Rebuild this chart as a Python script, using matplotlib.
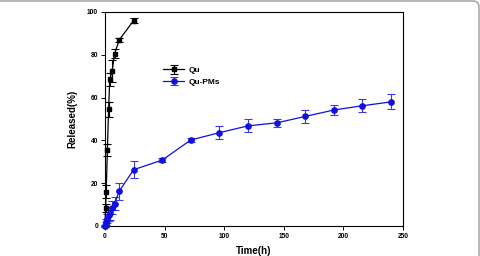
import matplotlib
matplotlib.use("Agg")
import matplotlib.pyplot as plt
from matplotlib.patches import FancyBboxPatch
from matplotlib.transforms import IdentityTransform

plt.rcParams['font.family'] = ['Liberation Sans', 'DejaVu Sans']

# Data
qu_time = [0, 0.5, 1, 2, 3, 4, 6, 8, 12, 24]
qu_rel = [0, 8.5, 16, 35.5, 54.5, 68.5, 72.5, 80.5, 87, 96]
qu_err = [0.5, 2, 3, 3, 3.5, 3, 5, 2, 1, 1]

pm_time = [0, 0.5, 1, 2, 3, 4, 6, 8, 12, 24, 48, 72, 96, 120, 144, 168, 192, 216, 240]
pm_rel = [0, 1, 2, 3.5, 5, 6, 8.5, 10.5, 16.3, 26.3, 30.8, 40.2, 43.6, 46.8, 48.2, 51.2, 54.2, 56.2, 58]
pm_err = [0.5, 1, 1.5, 2, 2.5, 3, 3, 3, 4, 4, 1, 1, 3, 3, 2, 3, 2.5, 3, 3.5]

x_ticks = [0, 50, 100, 150, 200, 250]
y_ticks = [0, 20, 40, 60, 80, 100]

fig = plt.figure(figsize=(4.81, 2.56), dpi=100)
ax = fig.add_axes([105/481, 1-226/256, 298/481, 214/256])

ax.errorbar(qu_time, qu_rel, yerr=qu_err, color='black', marker='s', ms=3.5,
            lw=0.9, elinewidth=0.8, capsize=3, capthick=0.8, label='Qu', clip_on=False, zorder=3)
ax.errorbar(pm_time, pm_rel, yerr=pm_err, color='#1010e0', ecolor='#3a3ae0', marker='o', ms=3.8,
            lw=0.9, elinewidth=0.8, capsize=3, capthick=0.8, label='Qu-PMs', clip_on=False, zorder=3)

ax.set_xlim(0, 250)
ax.set_ylim(0, 100)
ax.set_xticks(x_ticks)
ax.set_yticks(y_ticks)
ax.tick_params(direction='out', length=3, width=0.7, labelsize=4.8, pad=2)
for lab in ax.get_xticklabels() + ax.get_yticklabels():
    lab.set_fontweight('bold')
for s in ax.spines.values():
    s.set_linewidth(0.8)

ax.set_xlabel('Time(h)', fontsize=7, fontweight='bold', labelpad=4)
ax.set_ylabel('Released(%)', fontsize=7, fontweight='bold', labelpad=7)

leg = ax.legend(loc='upper left', bbox_to_anchor=(0.17, 0.78), frameon=False,
                prop={'size': 6, 'weight': 'bold'}, handlelength=2.5,
                labelspacing=0.45, handletextpad=0.5)

# figure frame (top and right with rounded corner)
frame = FancyBboxPatch((-20, -20), 499, 275, boxstyle='round,pad=0,rounding_size=6',
                       transform=IdentityTransform(), fill=False, edgecolor='#aaaaaa', lw=1.2)
fig.patches.append(frame)

fig.savefig('out.png', dpi=100)
